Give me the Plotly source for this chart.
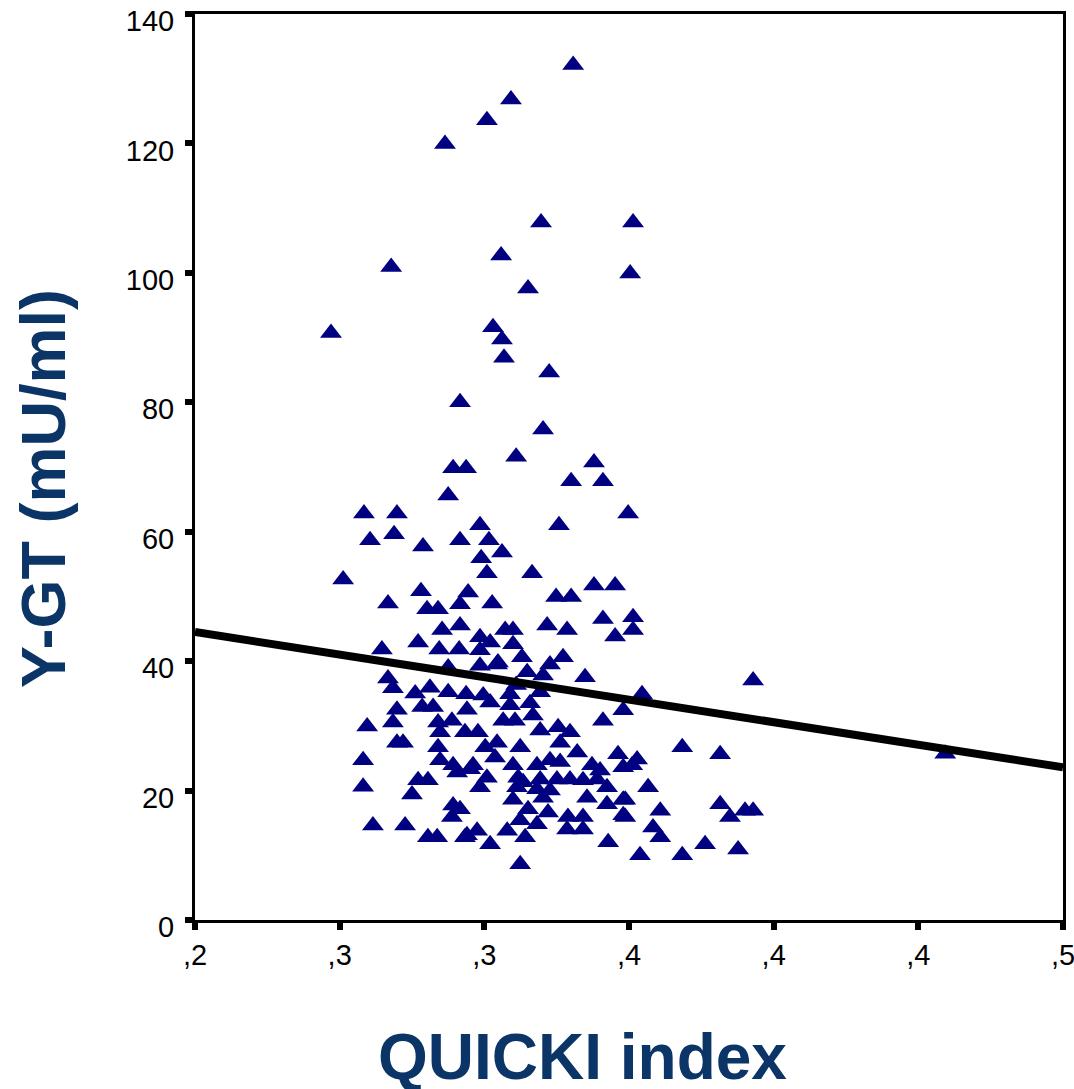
import plotly.graph_objects as go

quicki = [0.3307, 0.3092, 0.3009, 0.2864, 0.3196, 0.3514, 0.2678, 0.3504, 0.3058, 0.3151,
          0.2470, 0.3030, 0.3061, 0.3068, 0.3224, 0.2916, 0.3203, 0.3110, 0.2892, 0.2937,
          0.3379, 0.3300, 0.3410, 0.2875, 0.3497, 0.2584, 0.2698, 0.2605, 0.2688, 0.2788,
          0.2916, 0.2985, 0.3016, 0.3061, 0.2989, 0.3009, 0.3165, 0.3258, 0.2512, 0.2781,
          0.2944, 0.2667, 0.2802, 0.2840, 0.2916, 0.3027, 0.3379, 0.3452, 0.3248, 0.3300,
          0.3410, 0.3514, 0.3514, 0.3217, 0.3286, 0.3452, 0.2854, 0.2916, 0.2771, 0.2844,
          0.2913, 0.2646, 0.2985, 0.3020, 0.3072, 0.3099, 0.3099, 0.2985, 0.3130, 0.3227,
          0.3272, 0.2985, 0.3044, 0.2875, 0.3148, 0.3203, 0.3348, 0.2667, 0.2684, 0.2761,
          0.2812, 0.2875, 0.2937, 0.2996, 0.3020, 0.3089, 0.3110, 0.3158, 0.2698, 0.2785,
          0.2823, 0.2940, 0.3089, 0.3168, 0.3480, 0.3410, 0.3065, 0.3106, 0.2595, 0.2684,
          0.2840, 0.2888, 0.2847, 0.2933, 0.2978, 0.3193, 0.3255, 0.3296, 0.2698, 0.2719,
          0.2840, 0.3044, 0.3124, 0.3003, 0.3262, 0.3321, 0.3462, 0.2581, 0.2847, 0.2892,
          0.2906, 0.2951, 0.2961, 0.3037, 0.3099, 0.3182, 0.3227, 0.3262, 0.3372, 0.3400,
          0.3480, 0.2771, 0.2805, 0.2581, 0.2750, 0.3009, 0.3117, 0.3134, 0.3193, 0.3251,
          0.3296, 0.3341, 0.3390, 0.3424, 0.2985, 0.3113, 0.3182, 0.3227, 0.3355, 0.3099,
          0.3203, 0.3480, 0.3424, 0.2892, 0.2916, 0.3151, 0.3220, 0.3480, 0.2888, 0.3124,
          0.3182, 0.3289, 0.3341, 0.3286, 0.3341, 0.3079, 0.3141, 0.2940, 0.2975, 0.3020,
          0.3428, 0.3124, 0.2615, 0.2726, 0.2805, 0.2837, 0.2933, 0.3545, 0.3929, 0.3684,
          0.3815, 0.3528, 0.3511, 0.3566, 0.3608, 0.3815, 0.3849, 0.3901, 0.3929, 0.3583,
          0.3608, 0.3763, 0.3877, 0.3538, 0.3684, 0.4593, 0.3487, 0.3487, 0.3193, 0.3047]

ggt = [132.1, 126.8, 123.6, 119.9, 107.8, 107.8, 100.9, 99.9, 102.7, 97.6,
       90.7, 91.6, 89.7, 86.9, 84.6, 80.0, 75.8, 71.6, 69.8, 69.8,
       70.7, 67.8, 67.8, 65.6, 62.8, 62.8, 62.8, 58.7, 59.6, 57.7,
       58.7, 61.0, 58.7, 56.8, 55.9, 53.6, 53.6, 61.0, 52.6, 50.8,
       50.6, 48.9, 48.0, 48.0, 48.8, 48.9, 51.7, 51.7, 49.9, 49.9,
       46.5, 46.8, 44.8, 45.5, 44.8, 43.8, 44.8, 45.5, 42.9, 41.8,
       41.8, 41.8, 43.7, 42.9, 44.8, 44.8, 42.6, 41.7, 40.6, 39.5,
       40.6, 39.3, 39.5, 39.0, 38.3, 37.8, 37.5, 37.3, 35.8, 35.0,
       35.9, 35.2, 34.9, 34.7, 33.6, 34.9, 36.3, 33.5, 32.5, 32.9,
       32.9, 32.5, 33.2, 31.6, 32.4, 30.8, 30.8, 30.8, 29.9, 30.5,
       30.5, 30.8, 29.0, 29.0, 29.0, 29.3, 29.8, 29.0, 27.4, 27.4,
       26.7, 27.4, 26.7, 26.7, 27.4, 25.9, 25.6, 24.7, 24.7, 23.9,
       22.8, 23.3, 23.9, 25.1, 23.9, 23.9, 24.7, 24.4, 23.9, 23.1,
       23.6, 21.6, 21.6, 20.6, 19.4, 22.0, 22.0, 21.3, 21.7, 21.7,
       21.7, 21.6, 21.7, 20.5, 20.5, 20.5, 20.2, 20.0, 18.9, 18.6,
       18.9, 18.6, 17.9, 17.7, 17.1, 17.1, 16.6, 16.2, 15.9, 15.4,
       14.8, 15.9, 15.9, 14.0, 14.0, 13.8, 12.8, 13.1, 13.8, 11.7,
       12.0, 8.6, 14.6, 14.6, 12.8, 12.8, 12.8, 34.9, 37.0, 26.7,
       25.6, 24.8, 23.9, 20.5, 16.9, 17.9, 15.9, 16.9, 16.9, 14.3,
       12.8, 11.7, 10.9, 10.0, 10.0, 25.7, 18.6, 15.9, 35.2, 39.8]

fit_x = [0.2, 0.5]
fit_y = [44.5, 23.6]

x_tickvals = [0.20, 0.25, 0.30, 0.35, 0.40, 0.45, 0.50]
x_ticktext = [",2", ",3", ",3", ",4", ",4", ",4", ",5"]
y_tickvals = [0, 20, 40, 60, 80, 100, 120, 140]

FONT = "Arial, Liberation Sans, sans-serif"
TITLE_COLOR = "#0b3566"

fig = go.Figure()
fig.add_trace(go.Scatter(
    x=quicki, y=ggt, mode="markers",
    marker=dict(symbol="triangle-up", size=19, color="#000080", line=dict(width=0)),
    showlegend=False, hoverinfo="x+y"))
fig.add_trace(go.Scatter(
    x=fit_x, y=fit_y, mode="lines",
    line=dict(color="black", width=8), showlegend=False, hoverinfo="skip"))

axis_common = dict(
    showgrid=False, zeroline=False, showline=True, linecolor="black", linewidth=3,
    mirror=True, ticks="outside", ticklen=7, tickwidth=6, tickcolor="black",
    ticklabeloverflow="allow", automargin=False,
    tickfont=dict(family=FONT, size=29, color="black"))

fig.update_xaxes(range=[0.2, 0.5], tickvals=x_tickvals, ticktext=x_ticktext, **axis_common)
fig.update_yaxes(range=[0, 140], tickvals=y_tickvals, ticklabelshift=7,
                 ticklabelstandoff=5, **axis_common)

fig.update_layout(
    width=1074, height=1089,
    margin=dict(l=195, r=11, t=14, b=169, pad=0, autoexpand=False),
    plot_bgcolor="white", paper_bgcolor="white",
    annotations=[
        dict(text="<b>QUICKI index</b>", xref="paper", yref="paper", x=0.446, y=-0.151,
             showarrow=False, xanchor="center", yanchor="middle",
             font=dict(family=FONT, size=64, color=TITLE_COLOR)),
        dict(text="<b>Y-GT (mU/ml)</b>", xref="paper", yref="paper", x=-0.175, y=0.4757,
             showarrow=False, xanchor="center", yanchor="middle", textangle=-90,
             font=dict(family=FONT, size=63, color=TITLE_COLOR)),
    ],
)

fig.write_html("out.html", config={"displayModeBar": False},
               post_script="document.body.style.margin='0px';document.body.style.overflow='hidden';")
